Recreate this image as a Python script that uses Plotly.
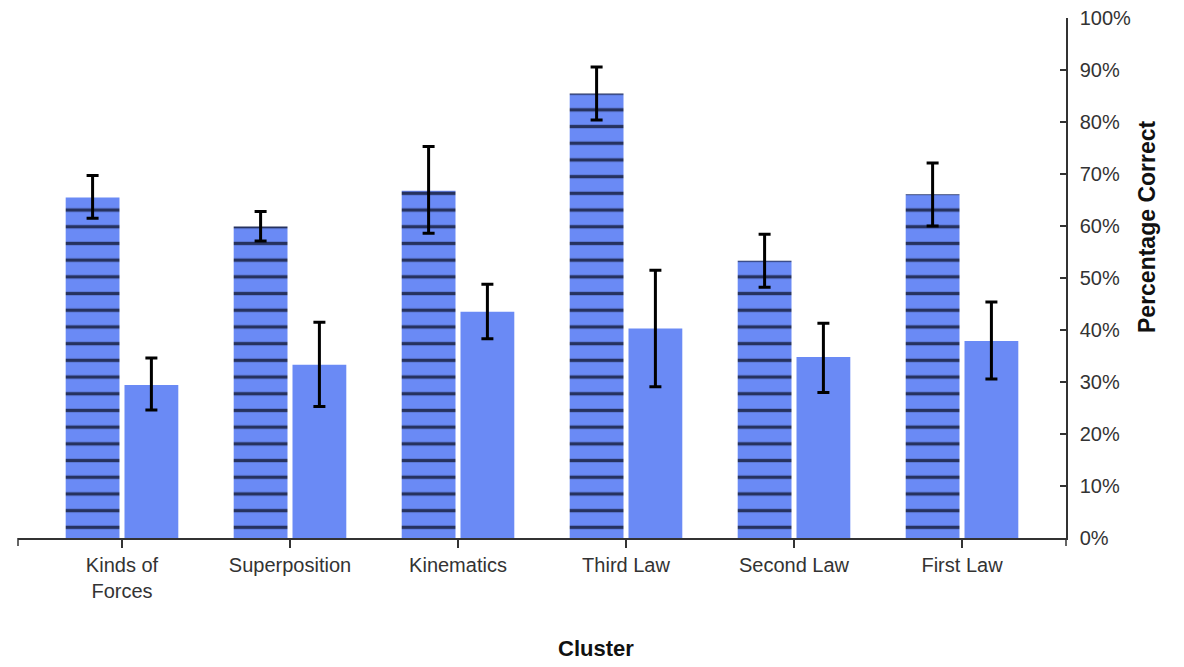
import plotly.graph_objects as go

categories = ["Kinds of<br>Forces", "Superposition", "Kinematics", "Third Law", "Second Law", "First Law"]
hatched = [65.5, 59.9, 66.8, 85.5, 53.3, 66.1]
hatched_hi = [69.7, 62.8, 75.3, 90.6, 58.4, 72.1]
hatched_lo = [61.5, 57.1, 58.6, 80.4, 48.2, 60.0]
plain = [29.4, 33.3, 43.5, 40.3, 34.8, 37.9]
plain_hi = [34.6, 41.5, 48.8, 51.5, 41.3, 45.4]
plain_lo = [24.6, 25.3, 38.3, 29.1, 28.0, 30.6]
y_ticks = list(range(0, 101, 10))

BAR = "#6a8af5"
FONT = "Liberation Sans, Arial, sans-serif"

fig = go.Figure()
fig.add_trace(go.Bar(
    x=categories, y=hatched, name="hatched",
    marker=dict(color=BAR, line=dict(width=0),
                pattern=dict(shape="-", fgcolor="#26325e", fgopacity=1, size=16.7,
                             solidity=0.2, fillmode="overlay")),
    error_y=dict(type="data", symmetric=False,
                 array=[h - v for h, v in zip(hatched_hi, hatched)],
                 arrayminus=[v - l for l, v in zip(hatched_lo, hatched)],
                 color="black", thickness=3, width=6),
))
fig.add_trace(go.Bar(
    x=categories, y=plain, name="plain",
    marker=dict(color=BAR, line=dict(width=0)),
    error_y=dict(type="data", symmetric=False,
                 array=[h - v for h, v in zip(plain_hi, plain)],
                 arrayminus=[v - l for l, v in zip(plain_lo, plain)],
                 color="black", thickness=3, width=6),
))

fig.update_layout(
    width=1176, height=659,
    margin=dict(l=10, r=118, t=10, b=129),
    plot_bgcolor="white", paper_bgcolor="white",
    barmode="group", bargap=0.30, bargroupgap=0.085,
    showlegend=False,
    font=dict(family=FONT, size=20, color="#333"),
    xaxis=dict(
        type="category", range=[-0.619, 5.619], automargin=False,
        showline=True, linecolor="#333", linewidth=1.5,
        ticks="outside", ticklen=8, tickcolor="#333", tickwidth=1.5,
        showgrid=False, zeroline=False,
        tickfont=dict(size=20, color="#333"),
    ),
    yaxis=dict(
        side="right", range=[0, 100], tickvals=y_ticks, automargin=False,
        ticktext=[f"{v}%" for v in y_ticks],
        showline=True, linecolor="#333", linewidth=1.5,
        ticks="inside", ticklen=6, tickcolor="#333", tickwidth=1.5,
        ticklabelstandoff=8, ticklabeloverflow="allow",
        showgrid=False, zeroline=False,
        tickfont=dict(size=20, color="#333"),
    ),
    annotations=[
        dict(text="<b>Percentage Correct</b>", xref="paper", yref="paper",
             x=(1147 - 18) / 1048, y=(538 - 227) / 520, xanchor="center", yanchor="middle",
             textangle=-90, showarrow=False, font=dict(size=23, color="#111")),
        dict(text="<b>Cluster</b>", xref="paper", yref="paper",
             x=(596 - 18) / 1048, y=(538 - 648) / 520, xanchor="center", yanchor="middle",
             showarrow=False, font=dict(size=22, color="#111")),
    ],
    shapes=[
        dict(type="line", xref="paper", yref="paper", x0=0, x1=0, y0=0, y1=-8/520,
             line=dict(color="#333", width=1.5)),
        dict(type="line", xref="paper", yref="paper", x0=1, x1=1, y0=0, y1=-8/520,
             line=dict(color="#333", width=1.5)),
    ],
)

fig.write_html("out.html")
